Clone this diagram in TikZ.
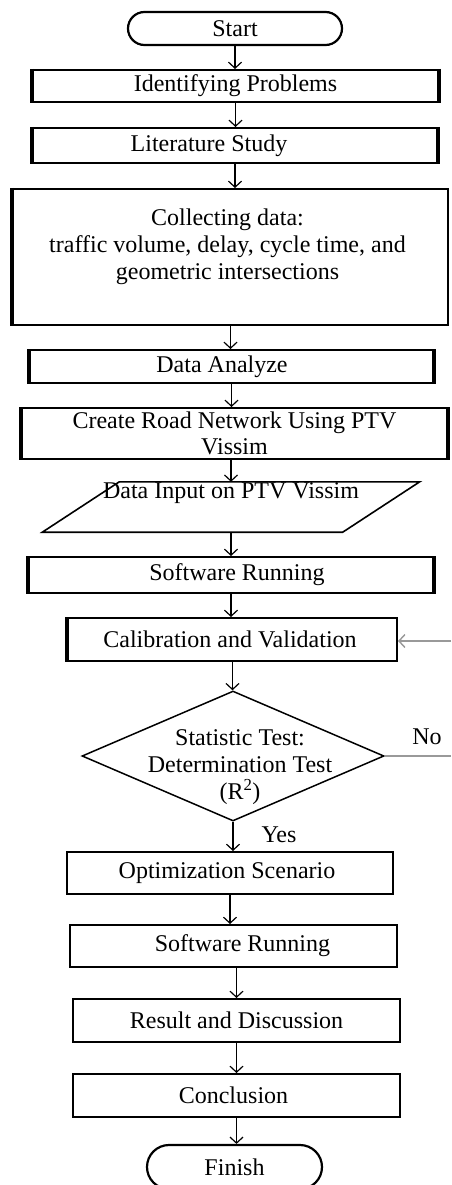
\documentclass[tikz,border=0pt]{standalone}
\usepackage{fontspec}
\setmainfont{Liberation Serif}
\usetikzlibrary{shapes.geometric,shapes.misc,arrows.meta}
\begin{document}
\begin{tikzpicture}[x=1pt,y=-1pt,
  every node/.style={font=\fontsize{24}{27}\selectfont},
  box/.style={draw, line width=2pt, rectangle, inner sep=0pt},
  term/.style={draw, line width=2.2pt, rounded rectangle, inner sep=0pt},
  arr/.style={line width=1.4pt, -{Straight Barb[length=6pt,width=13pt,line width=1.2pt]}},
  fb/.style={line width=2.2pt, draw=black!40},
  side/.style={line width=4.5pt}]
\useasboundingbox[fill=white] (0,0) rectangle (451,1185);

\node[term, minimum width=214pt, minimum height=33pt] (start) at (235,28.5) {Start};
\node[box, minimum width=405pt, minimum height=32pt] (ident) at (235.5,86) {Identifying Problems};
\node[box, minimum width=404pt, minimum height=35pt, label={[xshift=-26pt]center:Literature Study}] (lit) at (235,145.5) {};
\node[box, minimum width=435pt, minimum height=136pt, label={[align=center, yshift=10pt, xshift=-3pt]center:Collecting data:\\traffic volume, delay, cycle time, and\\geometric intersections}] (coll) at (230.5,257) {};
\node[box, minimum width=403pt, minimum height=33pt, label={[xshift=-9.5pt]center:Data Analyze}] (anal) at (231.5,366.5) {};
\node[box, minimum width=425pt, minimum height=51pt, align=center, font=\fontsize{24}{26}\selectfont] (road) at (234.5,433.5) {Create Road Network Using PTV\\Vissim};
\node[rectangle, inner sep=0pt, minimum width=300pt, minimum height=50pt, label={[yshift=14pt]center:Data Input on PTV Vissim}] (input) at (231,507) {};
\draw[line width=1.6pt] ([xshift=38.5pt]input.north west) -- ([xshift=38.5pt]input.north east) -- ([xshift=-38.5pt]input.south east) -- ([xshift=-38.5pt]input.south west) -- cycle;
\node[box, minimum width=404pt, minimum height=36pt, label={[xshift=6pt]center:Software Running}] (soft1) at (231,575) {};
\node[box, minimum width=329pt, minimum height=43pt, label={[xshift=-2.5pt]center:Calibration and Validation}] (calib) at (232.5,639.5) {};
\node[diamond, draw, line width=1.5pt, inner sep=0pt, minimum width=302pt, minimum height=130pt, label={[align=center, yshift=-11pt, xshift=7pt]center:Statistic Test:\\Determination Test\\(R\textsuperscript{2})}] (dec) at (233,756) {};
\node[box, minimum width=326pt, minimum height=42pt, label={[xshift=-3pt]center:Optimization Scenario}] (opt) at (230,873) {};
\node[box, minimum width=327pt, minimum height=42pt, label={[xshift=9pt]center:Software Running}] (soft2) at (233.5,946) {};
\node[box, minimum width=327pt, minimum height=43pt] (result) at (236.5,1020.5) {Result and Discussion};
\node[box, minimum width=327pt, minimum height=43pt, label={[xshift=-3pt]center:Conclusion}] (concl) at (236.5,1095.5) {};
\node[term, minimum width=175pt, minimum height=44pt] (finish) at (234.5,1167) {Finish};

% thick side borders
\foreach \n in {ident,lit,anal,road,soft1}{
  \draw[side] (\n.north west) -- (\n.south west) (\n.north east) -- (\n.south east);
}
\draw[side] (coll.north west) -- (coll.south west);
\draw[side] (calib.north west) -- (calib.south west);

% labels
\node (no) at (427,737) {No};
\node (yes) at (279,835) {Yes};

% feedback
\coordinate (fbin) at (451,641);
\coordinate (fbout) at (451,756);
\draw[fb, -{Straight Barb[length=6pt,width=13pt,line width=1.4pt]}] (fbin) -- (fbin -| calib.east);
\draw[fb] (dec.east) -- (dec.east -| fbout);

% main arrows
\draw[arr] (start.south) -- (start.south |- ident.north);
\draw[arr] (ident.south) -- (ident.south |- lit.north);
\draw[arr] (lit.south) -- (lit.south |- coll.north);
\draw[arr] (coll.south) -- (coll.south |- anal.north);
\draw[arr] (anal.south) -- (anal.south |- road.north);
\draw[arr] (road.south -| input.north) -- (input.north);
\draw[arr] (input.south) -- (input.south |- soft1.north);
\draw[arr] (soft1.south) -- (soft1.south |- calib.north);
\draw[arr] (calib.south) -- (calib.south |- dec.north);
\draw[arr] (dec.south) -- (dec.south |- opt.north);
\draw[arr] (opt.south) -- (opt.south |- soft2.north);
\draw[arr] (soft2.south -| result.north) -- (result.north);
\draw[arr] (result.south) -- (result.south |- concl.north);
\draw[arr] (concl.south) -- (concl.south |- finish.north);
\end{tikzpicture}
\end{document}
